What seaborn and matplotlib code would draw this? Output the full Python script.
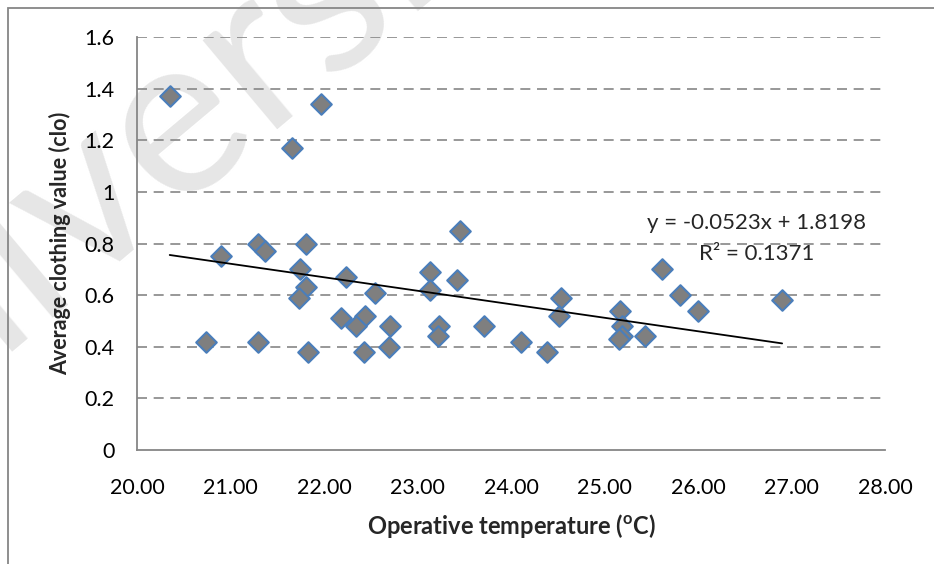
import matplotlib
matplotlib.use("Agg")
import matplotlib.pyplot as plt
import numpy as np
import pandas as pd
import seaborn as sns
from matplotlib.patches import Rectangle

# operative temperature (C) and average clothing value (clo)
temp_op = [20.35, 21.97, 21.66, 20.90, 21.29, 21.37, 21.81, 21.74, 21.81, 21.73,
           22.23, 22.55, 20.74, 21.29, 21.83, 22.18, 22.44, 22.34, 22.71, 22.43,
           22.70, 23.45, 23.13, 23.42, 23.13, 24.54, 24.51, 25.61, 25.81, 26.00,
           23.23, 23.22, 23.71, 24.11, 24.38, 25.17, 25.19, 25.19, 25.15, 25.43,
           26.90]
clo_avg = [1.37, 1.34, 1.17, 0.75, 0.80, 0.77, 0.80, 0.70, 0.63, 0.59,
           0.67, 0.61, 0.42, 0.42, 0.38, 0.51, 0.52, 0.48, 0.48, 0.38,
           0.40, 0.85, 0.69, 0.66, 0.62, 0.59, 0.52, 0.70, 0.60, 0.54,
           0.48, 0.44, 0.48, 0.42, 0.38, 0.54, 0.48, 0.44, 0.43, 0.44,
           0.58]

# linear trendline as printed on the chart
slope = -0.0523
intercept = 1.8198
r2 = 0.1371

x_ticks = [20, 21, 22, 23, 24, 25, 26, 27, 28]
y_ticks = [0, 0.2, 0.4, 0.6, 0.8, 1.0, 1.2, 1.4, 1.6]
y_ticklabels = ["0", "0.2", "0.4", "0.6", "0.8", "1", "1.2", "1.4", "1.6"]

df = pd.DataFrame({"temp": temp_op, "clo": clo_avg})
trend = pd.DataFrame({"temp": [min(temp_op), max(temp_op)]})
trend["clo"] = slope * trend["temp"] + intercept

sns.set_style("white")
plt.rcParams["font.family"] = ["Lato", "DejaVu Sans"]
plt.rcParams["mathtext.fontset"] = "custom"
plt.rcParams["mathtext.bf"] = "Lato:bold"
plt.rcParams["mathtext.rm"] = "Lato"

grey = "#868686"

fig = plt.figure(figsize=(9.34, 5.64), dpi=100)
ax = fig.add_axes([137 / 934, 1 - 450 / 564, 748 / 934, 413 / 564])
ax.patch.set_facecolor("none")

# watermark behind the chart
fig.text(-0.20, 0.08, "University of Malaya", rotation=40, rotation_mode="anchor",
         ha="left", va="baseline", fontsize=165, color="#e6e6e6", zorder=-5)

# chart area border (runs off the right and bottom edge)
fig.patches.append(Rectangle((8 / 934, -0.1), 1.2, 1 - 8 / 564 + 0.1,
                             transform=fig.transFigure, fill=False,
                             edgecolor=grey, linewidth=1.3, zorder=-4))

for yv in y_ticks[1:]:
    ax.axhline(yv, color=grey, linestyle=(0, (6, 4)), linewidth=1.2, zorder=1)

sns.scatterplot(data=df, x="temp", y="clo", marker="D", s=110, color="#7f7f7f",
                edgecolor="#4a7ebb", linewidth=1.5, ax=ax, zorder=3)
sns.lineplot(data=trend, x="temp", y="clo", color="black", linewidth=1.3, ax=ax, zorder=4)

ax.text(26.63, 0.88, f"y = {slope}x + {intercept}", ha="center", va="center", fontsize=16)
ax.text(26.63, 0.76, f"R² = {r2}", ha="center", va="center", fontsize=16)

ax.set_xlim(20, 28)
ax.set_ylim(0, 1.6)
ax.set_xticks(x_ticks)
ax.set_xticklabels([f"{v:.2f}" for v in x_ticks])
ax.set_yticks(y_ticks)
ax.set_yticklabels(y_ticklabels)
ax.tick_params(axis="both", labelsize=15.5, colors=grey, labelcolor="black",
               length=5, width=1.2, direction="out")
ax.tick_params(axis="x", pad=15)
ax.tick_params(axis="y", pad=11)

for side in ["top", "right"]:
    ax.spines[side].set_visible(False)
for side in ["left", "bottom"]:
    ax.spines[side].set_color(grey)
    ax.spines[side].set_linewidth(1.3)

ax.set_xlabel(r"Operative temperature ($\mathbf{^o}$C)", fontsize=17, fontweight="bold", labelpad=10)
ax.set_ylabel("Average clothing value (clo)", fontsize=15.5, fontweight="bold", labelpad=10)

fig.savefig("out.png", dpi=100)
